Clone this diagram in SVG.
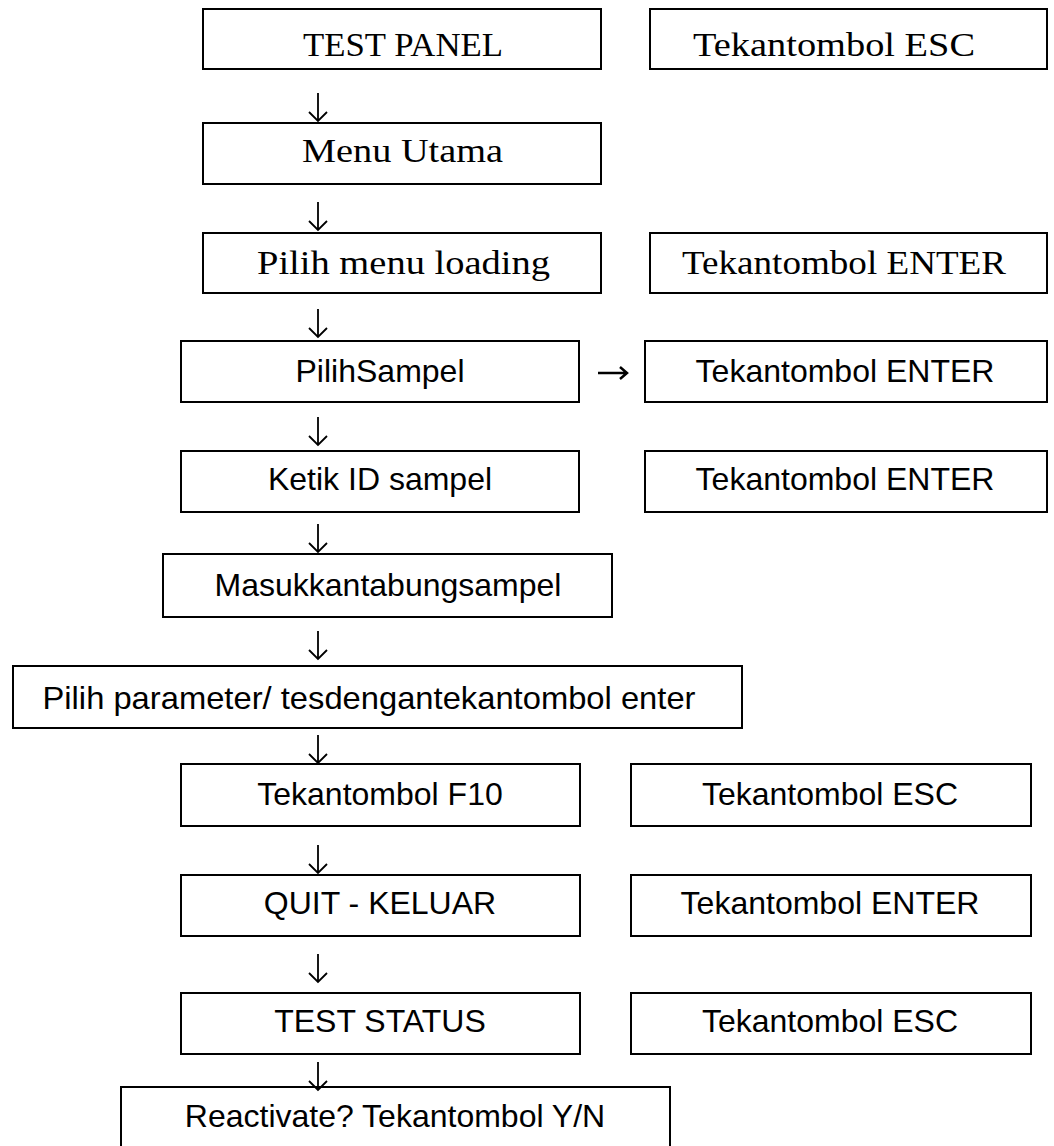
<svg xmlns="http://www.w3.org/2000/svg" width="1054" height="1146" viewBox="0 0 1054 1146">
<style>
.box{fill:#fff;stroke:#000;stroke-width:2}
.serif{font-family:"Liberation Serif","Times New Roman",serif;font-size:34px;fill:#000}
.sans{font-family:"Liberation Sans",Arial,sans-serif;font-size:32px;fill:#000;text-anchor:middle}
.arr{fill:none;stroke:#000;stroke-width:1.8}
</style>
<rect width="1054" height="1146" fill="#fff"/>
<g id="n1"><rect class="box" x="203" y="9" width="398" height="60"/><text class="serif" x="303" y="56" textLength="200" lengthAdjust="spacingAndGlyphs">TEST PANEL</text></g>
<g id="n1r"><rect class="box" x="650" y="9" width="397" height="60"/><text class="serif" x="693" y="56" textLength="282" lengthAdjust="spacingAndGlyphs">Tekantombol ESC</text></g>
<g id="n2"><rect class="box" x="203" y="123" width="398" height="61"/><text class="serif" x="302" y="162" textLength="201" lengthAdjust="spacingAndGlyphs">Menu Utama</text></g>
<g id="n3"><rect class="box" x="203" y="233" width="398" height="60"/><text class="serif" x="257" y="274" textLength="293" lengthAdjust="spacingAndGlyphs">Pilih menu loading</text></g>
<g id="n3r"><rect class="box" x="650" y="233" width="397" height="60"/><text class="serif" x="682" y="274" textLength="324" lengthAdjust="spacingAndGlyphs">Tekantombol ENTER</text></g>
<g id="n4"><rect class="box" x="181" y="341" width="398" height="61"/><text class="sans" x="380" y="382">PilihSampel</text></g>
<g id="n4r"><rect class="box" x="645" y="341" width="402" height="61"/><text class="sans" x="845" y="382">Tekantombol ENTER</text></g>
<g id="n5"><rect class="box" x="181" y="451" width="398" height="61"/><text class="sans" x="380" y="490">Ketik ID sampel</text></g>
<g id="n5r"><rect class="box" x="645" y="451" width="402" height="61"/><text class="sans" x="845" y="490">Tekantombol ENTER</text></g>
<g id="n6"><rect class="box" x="163" y="554" width="449" height="63"/><text class="sans" x="388" y="596">Masukkantabungsampel</text></g>
<g id="n7"><rect class="box" x="13" y="666" width="729" height="62"/><text class="sans" x="369" y="709" textLength="653" lengthAdjust="spacingAndGlyphs" style="text-anchor:start" transform="translate(-326.5 0)">Pilih parameter/ tesdengantekantombol enter</text></g>
<g id="n8"><rect class="box" x="181" y="764" width="399" height="62"/><text class="sans" x="380" y="805">Tekantombol F10</text></g>
<g id="n8r"><rect class="box" x="631" y="764" width="400" height="62"/><text class="sans" x="830" y="805">Tekantombol ESC</text></g>
<g id="n9"><rect class="box" x="181" y="875" width="399" height="61"/><text class="sans" x="380" y="914">QUIT - KELUAR</text></g>
<g id="n9r"><rect class="box" x="631" y="875" width="400" height="61"/><text class="sans" x="830" y="914">Tekantombol ENTER</text></g>
<g id="n10"><rect class="box" x="181" y="993" width="399" height="61"/><text class="sans" x="380" y="1032">TEST STATUS</text></g>
<g id="n10r"><rect class="box" x="631" y="993" width="400" height="61"/><text class="sans" x="830" y="1032">Tekantombol ESC</text></g>
<g id="n11"><rect class="box" x="121" y="1087" width="549" height="70"/><text class="sans" x="395" y="1127">Reactivate? Tekantombol Y/N</text></g>
<g id="connectors">
<path class="arr" d="M318 93V121M309 112L318 121L327 112"/>
<path class="arr" d="M318 202V230M309 221L318 230L327 221"/>
<path class="arr" d="M318 309V337M309 328L318 337L327 328"/>
<path class="arr" d="M318 417V445M309 436L318 445L327 436"/>
<path class="arr" d="M318 524V552M309 543L318 552L327 543"/>
<path class="arr" d="M318 631V659M309 650L318 659L327 650"/>
<path class="arr" d="M318 735V763M309 754L318 763L327 754"/>
<path class="arr" d="M318 845V873M309 864L318 873L327 864"/>
<path class="arr" d="M318 954V982M309 973L318 982L327 973"/>
<path class="arr" d="M318 1062V1090M309 1081L318 1090L327 1081"/>
<path class="arr" d="M598 373H627M620 367L627 373L620 379" style="stroke-width:2.5"/>
</g>
</svg>
